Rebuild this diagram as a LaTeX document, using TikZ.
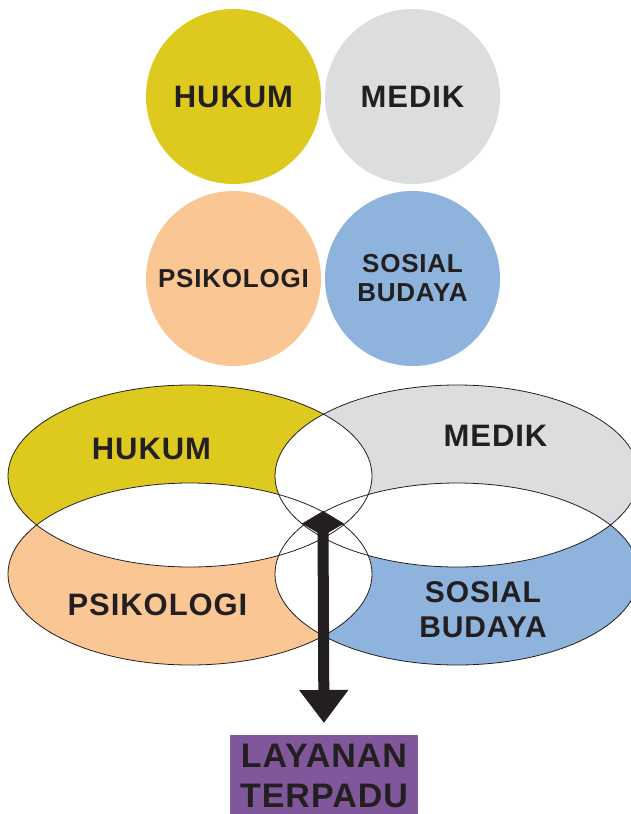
\documentclass[tikz,border=0pt]{standalone}
\usepackage{fontspec}
\setmainfont{Liberation Sans}[LetterSpace=3]
\usetikzlibrary{shapes.geometric,arrows.meta}
\definecolor{hukumcol}{RGB}{222,202,31}
\definecolor{medikcol}{RGB}{220,221,223}
\definecolor{psikocol}{RGB}{250,198,148}
\definecolor{sosialcol}{RGB}{142,179,220}
\definecolor{layanancol}{RGB}{128,87,154}
\definecolor{ink}{RGB}{35,31,32}
\tikzset{
  disc/.style={circle, minimum size=175pt, inner sep=0pt, text=ink, align=center},
  bigtxt/.style={font=\bfseries\fontsize{31}{35}\selectfont},
  smalltxt/.style={font=\bfseries\fontsize{26}{29}\selectfont},
  ring/.style={x radius=182pt, y radius=91pt},
  lbl/.style={text=ink, align=center, inner sep=0pt, font=\bfseries\fontsize{31}{35}\selectfont},
}
\begin{document}
\begin{tikzpicture}[x=1pt,y=-1pt]
\useasboundingbox (0,0) rectangle (631,814);
\clip (0,0) rectangle (631,814);
% four fields
\node[disc, bigtxt, fill=hukumcol] (hukum) at (233.5,96.5) {HUKUM};
\node[disc, bigtxt, fill=medikcol] (medik) at (412.5,96.5) {MEDIK};
\node[disc, smalltxt, fill=psikocol] (psiko) at (233.5,278.5) {PSIKOLOGI};
\node[disc, smalltxt, fill=sosialcol] (sosial) at (412.5,278.5) {SOSIAL\\BUDAYA};
% overlapping ellipses
\coordinate (eh) at (190,476);
\coordinate (em) at (457,476);
\coordinate (ep) at (190,574);
\coordinate (es) at (457,574);
\fill[hukumcol] (eh) ellipse [ring];
\fill[medikcol] (em) ellipse [ring];
\fill[psikocol] (ep) ellipse [ring];
\fill[sosialcol] (es) ellipse [ring];
\foreach \a/\b in {eh/em, eh/ep, eh/es, em/ep, em/es, ep/es}{
  \begin{scope}
    \clip (\a) ellipse [ring];
    \fill[white] (\b) ellipse [ring];
  \end{scope}
}
\foreach \a in {eh,em,ep,es}
  \draw[ink, line width=0.8pt] (\a) ellipse [ring];
\node[lbl] (hukumlbl) at (151.5,448.5) {HUKUM};
\node[lbl] (mediklbl) at (495.5,435.5) {MEDIK};
\node[lbl] (psikolbl) at (157.5,605) {PSIKOLOGI};
\node[lbl, font=\bfseries\fontsize{30}{35}\selectfont] (sosiallbl) at (483,610) {SOSIAL\\BUDAYA};
% result
\node[diamond, fill=ink, inner sep=0pt, shape aspect=1.7, minimum width=42pt, minimum height=25pt] (hub) at (323,523.5) {};
\node[fill=layanancol, text=ink, align=center, minimum width=188pt, minimum height=82pt, anchor=north,
  font=\bfseries\fontsize{34}{40}\selectfont] (layanan) at (324,735) {LAYANAN\\TERPADU};
\draw[ink, line width=11pt, -{Triangle[width=47pt, length=33pt]}, shorten >=12pt] (hub.center) -- (layanan.north);
\end{tikzpicture}
\end{document}
